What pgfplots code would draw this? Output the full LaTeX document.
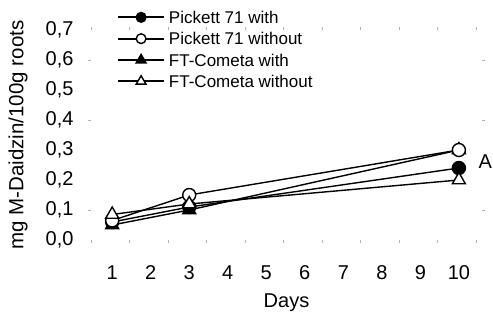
\documentclass[border=0pt]{standalone}
\usepackage{fontspec}
\setmainfont{Liberation Sans}
\usepackage{pgfplots}
\pgfplotsset{compat=1.18}
\begin{document}
\begin{tikzpicture}
\path[use as bounding box] (-91bp,-74bp) rectangle (402bp,240bp);
\begin{axis}[
  at={(0,0)}, anchor=south west,
  scale only axis, width=391bp, height=210bp,
  xmin=0.45, xmax=10.6, ymin=0, ymax=0.7,
  clip=false,
  axis line style={draw=none},
  xtick={1,...,10},
  ytick={0,0.1,...,0.7},
  major tick length=0pt,
  extra x ticks={0.45,1.45,2.45,3.45,4.45,5.45,6.45,7.45,8.45,9.45,10.45},
  extra y ticks={0.1,0.4,0.6},
  extra x tick labels={},
  extra y tick labels={},
  extra tick style={major tick length=3bp, tick style={gray!60, line width=0.8bp}, tick align=outside},
  /pgf/number format/assume math mode=true,
  /pgf/number format/use comma,
  /pgf/number format/fixed, /pgf/number format/fixed zerofill, /pgf/number format/precision=1,
  xticklabel style={font=\fontsize{20bp}{22bp}\selectfont, yshift=-22bp},
  yticklabel style={font=\fontsize{20bp}{22bp}\selectfont, xshift=-14bp},
  xticklabel={\pgfmathprintnumber[precision=0]{\tick}},
  xlabel={Days},
  ylabel={mg M-Daidzin/100g roots},
  xlabel style={font=\fontsize{20bp}{22bp}\selectfont, at={(rel axis cs:0.5,0)}, anchor=center, yshift=-63bp},
  ylabel style={font=\fontsize{20.5bp}{22bp}\selectfont, at={(rel axis cs:0,0.5)}, anchor=center, rotate=0, yshift=73bp},
  legend style={draw=none, fill=none, at={(rel axis cs:0,1)}, anchor=north west, xshift=26bp, yshift=20bp,
    font=\fontsize{17bp}{19bp}\selectfont, inner sep=0pt, row sep=7bp, column sep=3bp,
    nodes={inner sep=1bp, text depth=0pt}},
  legend cell align=left,
  legend image code/.code={\draw[mark repeat=2,mark phase=2,#1,line width=1.8bp,every mark/.append style={scale=0.75,line width=1.4bp}] plot coordinates {(0bp,0bp) (23bp,0bp) (46bp,0bp)};},
  every axis plot/.append style={black, line width=1.4bp},
]
% drawn so that the open circles lie on top of the filled triangles
\addplot[forget plot, mark=*, mark size=6.5bp, mark options={fill=black}] coordinates {(1,0.06) (3,0.11) (10,0.24)};
\addplot[forget plot, mark=triangle*, mark size=7.5bp, mark options={fill=black}] coordinates {(1,0.05) (3,0.10) (10,0.30)};
\addplot[forget plot, mark=*, mark size=6.5bp, mark options={fill=white}] coordinates {(1,0.065) (3,0.15) (10,0.30)};
\addplot[forget plot, mark=triangle*, mark size=7.5bp, mark options={fill=white}] coordinates {(1,0.085) (3,0.12) (10,0.20)};
\addlegendimage{black, mark=*, mark size=6.5bp, mark options={fill=black}}
\addlegendentry{Pickett 71 with}
\addlegendimage{black, mark=*, mark size=6.5bp, mark options={fill=white}}
\addlegendentry{Pickett 71 without}
\addlegendimage{black, mark=triangle*, mark size=7.5bp, mark options={fill=black}}
\addlegendentry{FT-Cometa with}
\addlegendimage{black, mark=triangle*, mark size=7.5bp, mark options={fill=white}}
\addlegendentry{FT-Cometa without}
\node[anchor=west, font=\fontsize{20bp}{22bp}\selectfont] at (axis cs:10.42,0.26) {A};
\end{axis}
\end{tikzpicture}
\end{document}
